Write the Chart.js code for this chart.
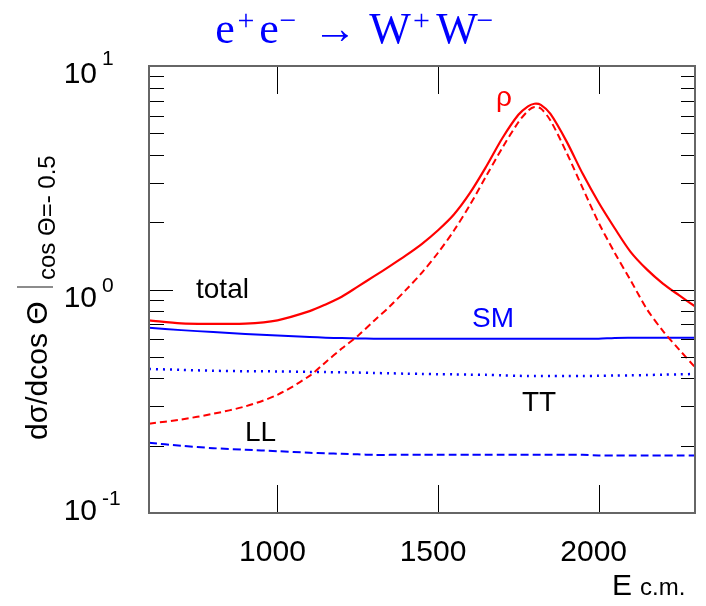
<!DOCTYPE html>
<html>
<head>
<meta charset="utf-8">
<script src="https://cdn.jsdelivr.net/npm/chart.js@4"></script>
<style>
  html, body { margin: 0; padding: 0; background: #fff; }
  canvas { display: block; }
</style>
</head>
<body>
<canvas id="c" width="706" height="606"></canvas>
<script>
// Centre-of-mass energy grid (GeV)
const energies = [600, 700, 800, 900, 1000, 1100, 1150, 1200, 1250, 1300, 1350, 1400, 1450,
  1500, 1550, 1600, 1650, 1700, 1750, 1780, 1800, 1820, 1850, 1900, 1950, 2000, 2050, 2100,
  2150, 2200, 2250, 2300];

// dσ/dcosΘ at cosΘ = -0.5, with the ρ resonance
const rhoTotal = [0.727, 0.705, 0.702, 0.703, 0.728, 0.800, 0.857, 0.928, 1.030, 1.144, 1.272,
  1.420, 1.600, 1.840, 2.170, 2.710, 3.550, 4.750, 6.050, 6.600, 6.780, 6.700, 6.100, 4.600,
  3.300, 2.450, 1.880, 1.470, 1.230, 1.063, 0.943, 0.840];
const rhoLL = [0.251, 0.262, 0.278, 0.300, 0.338, 0.411, 0.473, 0.544, 0.620, 0.723, 0.841,
  0.996, 1.190, 1.460, 1.840, 2.400, 3.220, 4.300, 5.600, 6.300, 6.550, 6.450, 5.700, 4.100,
  2.850, 1.990, 1.460, 1.096, 0.818, 0.653, 0.540, 0.449];

// Standard Model: total, transverse-transverse, longitudinal-longitudinal
const smTotal = [0.674, 0.658, 0.645, 0.633, 0.622, 0.613, 0.609, 0.606, 0.604, 0.602, 0.602,
  0.602, 0.602, 0.602, 0.602, 0.602, 0.602, 0.602, 0.602, 0.602, 0.602, 0.602, 0.602, 0.602,
  0.602, 0.602, 0.607, 0.608, 0.608, 0.609, 0.609, 0.609];
const smTT = [0.441, 0.437, 0.433, 0.431, 0.430, 0.428, 0.427, 0.426, 0.425, 0.423, 0.422,
  0.420, 0.419, 0.418, 0.417, 0.416, 0.415, 0.413, 0.411, 0.410, 0.410, 0.410, 0.410, 0.410,
  0.410, 0.411, 0.412, 0.413, 0.414, 0.416, 0.417, 0.419];
const smLL = [0.206, 0.200, 0.195, 0.192, 0.189, 0.186, 0.185, 0.184, 0.183, 0.182, 0.182,
  0.182, 0.182, 0.182, 0.182, 0.182, 0.182, 0.182, 0.182, 0.182, 0.182, 0.182, 0.182, 0.182,
  0.182, 0.181, 0.181, 0.181, 0.181, 0.181, 0.181, 0.181];

// Axis ticks
const xTickValues = [1000, 1500, 2000];
const yDecades = [10, 1, 0.1];
const yExponents = ['1', '0', '-1'];

const SANS = "'Liberation Sans', Arial, Helvetica, sans-serif";
const SERIF = "'Liberation Serif', 'Times New Roman', 'DejaVu Serif', serif";

const pts = arr => energies.map((e, i) => ({ x: e, y: arr[i] }));

function line(data, color, width, dash) {
  return {
    data: pts(data),
    borderColor: color,
    borderWidth: width,
    borderDash: dash || [],
    borderCapStyle: 'butt',
    pointRadius: 0,
    fill: false,
    tension: 0.3
  };
}

// Frame, inward ticks, tick labels, curve labels and titles
const decorations = {
  id: 'decorations',
  afterDraw(chart) {
    const ctx = chart.ctx;
    const { left, right, top, bottom } = chart.chartArea;
    const xs = chart.scales.x, ys = chart.scales.y;
    ctx.save();

    // tick marks
    ctx.strokeStyle = '#000';
    ctx.lineWidth = 1;
    ctx.beginPath();
    xTickValues.forEach(v => {
      const px = Math.round(xs.getPixelForValue(v)) + 0.5;
      ctx.moveTo(px, bottom); ctx.lineTo(px, bottom - 28);
      ctx.moveTo(px, top); ctx.lineTo(px, top + 28);
    });
    yDecades.forEach(d => {
      const py = Math.round(ys.getPixelForValue(d)) + 0.5;
      ctx.moveTo(left, py); ctx.lineTo(left + 24, py);
      ctx.moveTo(right, py); ctx.lineTo(right - 24, py);
      if (d < 10) {
        for (let k = 2; k <= 9; k++) {
          const q = Math.round(ys.getPixelForValue(k * d)) + 0.5;
          ctx.moveTo(left, q); ctx.lineTo(left + 15, q);
          ctx.moveTo(right, q); ctx.lineTo(right - 14, q);
        }
      }
    });
    ctx.stroke();

    // frame
    ctx.strokeStyle = '#666';
    ctx.lineWidth = 2;
    ctx.strokeRect(left, top, right - left, bottom - top);

    // x tick labels
    ctx.fillStyle = '#000';
    ctx.font = '30px ' + SANS;
    ctx.textAlign = 'center';
    ctx.textBaseline = 'alphabetic';
    xTickValues.forEach(v => {
      ctx.fillText(String(v), xs.getPixelForValue(v) - 5, 561);
    });

    // y tick labels: 10 with a raised exponent
    const baseOff = [17, 17, 7];
    const expOff = [-1, 2, -8];
    yDecades.forEach((d, i) => {
      const py = ys.getPixelForValue(d);
      ctx.font = '30px ' + SANS;
      ctx.textAlign = 'right';
      ctx.fillText('10', 97, py + baseOff[i]);
      ctx.font = '21px ' + SANS;
      ctx.textAlign = 'left';
      ctx.fillText(yExponents[i], 102, py + expOff[i]);
    });

    // x axis title
    ctx.textAlign = 'left';
    ctx.font = '30px ' + SANS;
    ctx.fillText('E', 612, 595);
    ctx.font = '24px ' + SANS;
    ctx.fillText('c.m.', 640, 595);

    // y axis title (rotated)
    ctx.save();
    ctx.translate(47, 440);
    ctx.rotate(-Math.PI / 2);
    ctx.font = '30px ' + SANS;
    ctx.fillText('dσ/dcos Θ', 0, 0);
    ctx.lineWidth = 1.5;
    ctx.beginPath();
    ctx.moveTo(153, -30); ctx.lineTo(153, 6);
    ctx.stroke();
    ctx.font = '24px ' + SANS;
    ctx.fillText('cos Θ=- 0.5', 160, 8);
    ctx.restore();

    // curve labels
    ctx.font = '28px ' + SANS;
    ctx.fillStyle = '#000';
    ctx.fillText('total', 196, 298);
    ctx.fillText('TT', 522, 411);
    ctx.fillText('LL', 245, 441);
    ctx.fillStyle = '#0000ff';
    ctx.fillText('SM', 472, 327);
    ctx.fillStyle = '#ff0000';
    ctx.fillText('ρ', 496, 106);

    // process title
    ctx.fillStyle = '#0000ff';
    ctx.textAlign = 'center';
    const parts = [
      ['e', 225, false], ['+', 246, true], ['e', 269, false], ['−', 288, true],
      ['→', 335, false], ['W', 390, false], ['+', 421.5, true], ['W', 457, false], ['−', 485, true]
    ];
    parts.forEach(([t, x, sup]) => {
      ctx.font = (sup ? '30px ' : '44px ') + SERIF;
      ctx.fillText(t, x, sup ? 30 : 43);
    });

    ctx.restore();
  }
};

new Chart(document.getElementById('c'), {
  type: 'line',
  data: {
    datasets: [
      line(rhoTotal, '#ff0000', 2.2),
      line(rhoLL, '#ff0000', 2, [7, 4]),
      line(smTotal, '#0000ff', 2),
      line(smTT, '#0000ff', 2.5, [2, 5]),
      line(smLL, '#0000ff', 2, [8, 4])
    ]
  },
  options: {
    responsive: false,
    animation: false,
    devicePixelRatio: 1,
    layout: { padding: { left: 149, top: 66, right: 11, bottom: 93 } },
    plugins: { legend: { display: false }, tooltip: { enabled: false }, title: { display: false } },
    scales: {
      x: { type: 'linear', min: 600, max: 2300, display: false },
      y: { type: 'logarithmic', min: 0.1, max: 10, display: false }
    }
  },
  plugins: [decorations]
});
</script>
</body>
</html>
